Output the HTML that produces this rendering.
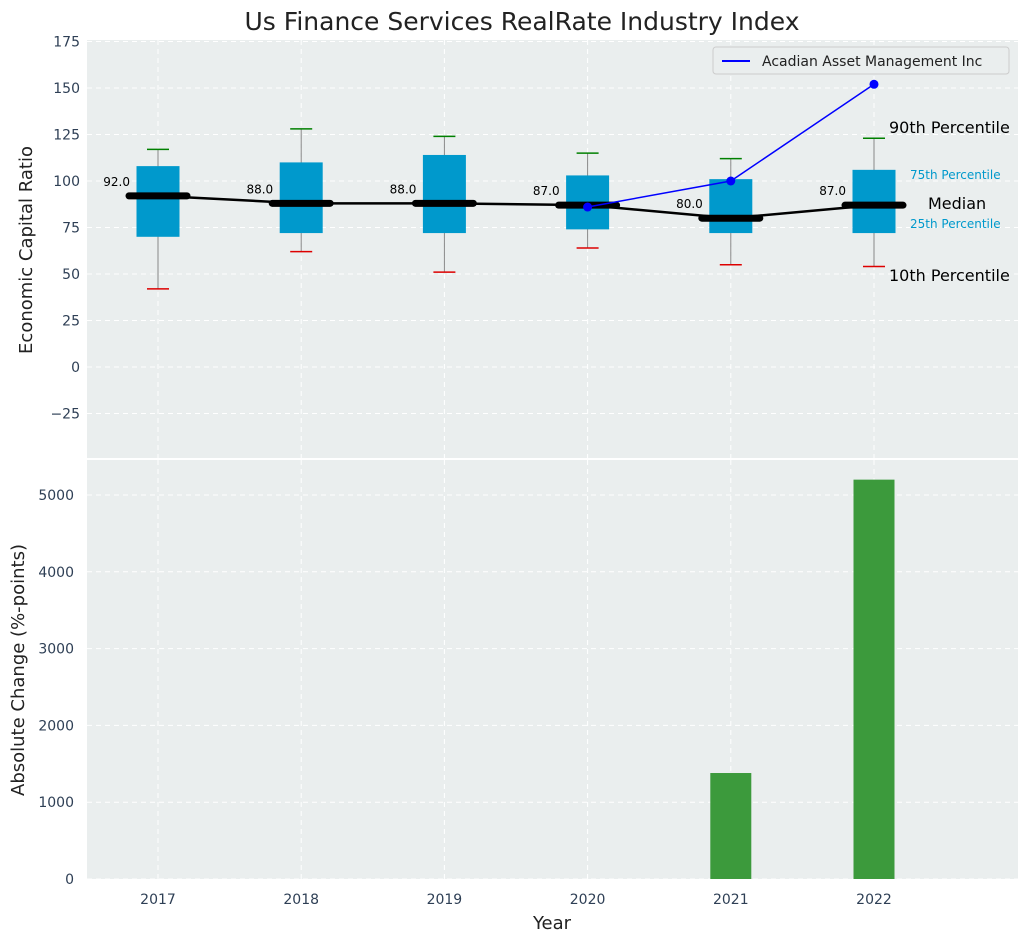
<!DOCTYPE html>
<html><head><meta charset="utf-8"><style>
body{margin:0;background:#fff;font-family:"DejaVu Sans","Liberation Sans",sans-serif;}
svg text{font-family:"DejaVu Sans","Liberation Sans",sans-serif;}
</style></head><body>
<svg id="c" width="1026" height="942" xmlns="http://www.w3.org/2000/svg">
<text x="522" y="30" font-size="25" text-anchor="middle" fill="#222">Us Finance Services RealRate Industry Index</text>
<rect x="87" y="40" width="931" height="418" fill="#eaeeee"/>
<rect x="87" y="460" width="931" height="419" fill="#eaeeee"/>
<g id="g"></g>
<text x="32" y="250" font-size="18" fill="#222" text-anchor="middle" transform="rotate(-90 32 250)">Economic Capital Ratio</text>
<text x="24" y="670" font-size="18" fill="#222" text-anchor="middle" transform="rotate(-90 24 670)">Absolute Change (%-points)</text>
<text x="552" y="929" font-size="18" fill="#222" text-anchor="middle">Year</text>
<g>
<rect x="713" y="47" width="296" height="27" rx="3" fill="#eaeeee" stroke="#ccc"/>
<line x1="722" y1="61" x2="750" y2="61" stroke="#0000ff" stroke-width="2"/>
<text x="762" y="66" font-size="14" fill="#222">Acadian Asset Management Inc</text>
</g>
<g>
<text x="889" y="133" font-size="16" fill="#000">90th Percentile</text>
<text x="910" y="179" font-size="12" fill="#0099cc">75th Percentile</text>
<text x="928" y="209" font-size="16" fill="#000">Median</text>
<text x="910" y="228" font-size="12" fill="#0099cc">25th Percentile</text>
<text x="889" y="281" font-size="16" fill="#000">10th Percentile</text>
</g>
</svg>
<script>
const years=[2017,2018,2019,2020,2021,2022];
const p10=[42,62,51,64,55,54];
const q1=[70,72,72,74,72,72];
const median=[92,88,88,87,80,87];
const q3=[108,110,114,103,101,106];
const p90=[117,128,124,115,112,123];
const companyYears=[2020,2021,2022];
const companyValues=[86,100,152];
const changeYears=[2021,2022];
const changeValues=[1380,5200];
const topTicks=[-25,0,25,50,75,100,125,150,175];
const bottomTicks=[0,1000,2000,3000,4000,5000];
const NS='http://www.w3.org/2000/svg';
const g=document.getElementById('g');
const X=y=>158+(y-2017)*143.2;
const YT=v=>367-v*1.86;
const YB=v=>879-v*0.0768;
function el(t,a,p){const e=document.createElementNS(NS,t);for(const k in a)e.setAttribute(k,a[k]);(p||g).appendChild(e);return e;}
function txt(x,y,s,a){const e=el('text',Object.assign({x:x,y:y},a));e.textContent=s;return e;}
topTicks.forEach(t=>{const l=el('line',{x1:87,x2:1018,y1:YT(t),y2:YT(t),stroke:'#fff','stroke-dasharray':'5,4','stroke-width':1});

const tt=txt(80,YT(t)+5,String(t).replace('-','−'),{'font-size':14,fill:'#2e3f55','text-anchor':'end'});
});
bottomTicks.forEach(t=>{const l=el('line',{x1:87,x2:1018,y1:YB(t),y2:YB(t),stroke:'#fff','stroke-dasharray':'5,4','stroke-width':1});

const tt=txt(74,YB(t)+5,String(t),{'font-size':14,fill:'#2e3f55','text-anchor':'end'});
});
years.forEach(y=>{[[40,458],[460,879]].forEach(r=>{const l=el('line',{x1:X(y),x2:X(y),y1:r[0],y2:r[1],stroke:'#fff','stroke-dasharray':'5,4'});
});
const tt=txt(X(y),904,String(y),{'font-size':14,fill:'#2e3f55','text-anchor':'middle'});
});
el('line',{x1:87,x2:1018,y1:459,y2:459,stroke:'#fff','stroke-width':2});
years.forEach((y,i)=>{const x=X(y);
const w=el('line',{x1:x,x2:x,y1:YT(p90[i]),y2:YT(p10[i]),stroke:'#888','stroke-width':1});

const b=el('rect',{x:x-21.5,y:YT(q3[i]),width:43,height:YT(q1[i])-YT(q3[i]),fill:'#0099cc'});

const t=el('line',{x1:x-11,x2:x+11,y1:YT(p90[i]),y2:YT(p90[i]),stroke:'#008000','stroke-width':1.5});

const bo=el('line',{x1:x-11,x2:x+11,y1:YT(p10[i]),y2:YT(p10[i]),stroke:'#dd0000','stroke-width':1.5});
});
const mp=el('polyline',{points:years.map((y,i)=>X(y)+','+YT(median[i])).join(' '),fill:'none',stroke:'#000','stroke-width':2.5});

years.forEach((y,i)=>{const x=X(y);
const m=el('line',{x1:x-29,x2:x+29,y1:YT(median[i]),y2:YT(median[i]),stroke:'#000','stroke-width':7,'stroke-linecap':'round'});

const l=txt(x-28,YT(median[i])-10,median[i].toFixed(1),{'font-size':12,fill:'#000','text-anchor':'end'});
});
const cl=el('polyline',{points:companyYears.map((y,i)=>X(y)+','+YT(companyValues[i])).join(' '),fill:'none',stroke:'#0000ff','stroke-width':1.5});

companyYears.forEach((y,i)=>{const c=el('circle',{cx:X(y),cy:YT(companyValues[i]),r:4.5,fill:'#0000ff'});
});
changeYears.forEach((y,i)=>{const b=el('rect',{x:X(y)-20.5,y:YB(changeValues[i]),width:41,height:879-YB(changeValues[i]),fill:'#3c9a3c'});
});
</script>
</body></html>
